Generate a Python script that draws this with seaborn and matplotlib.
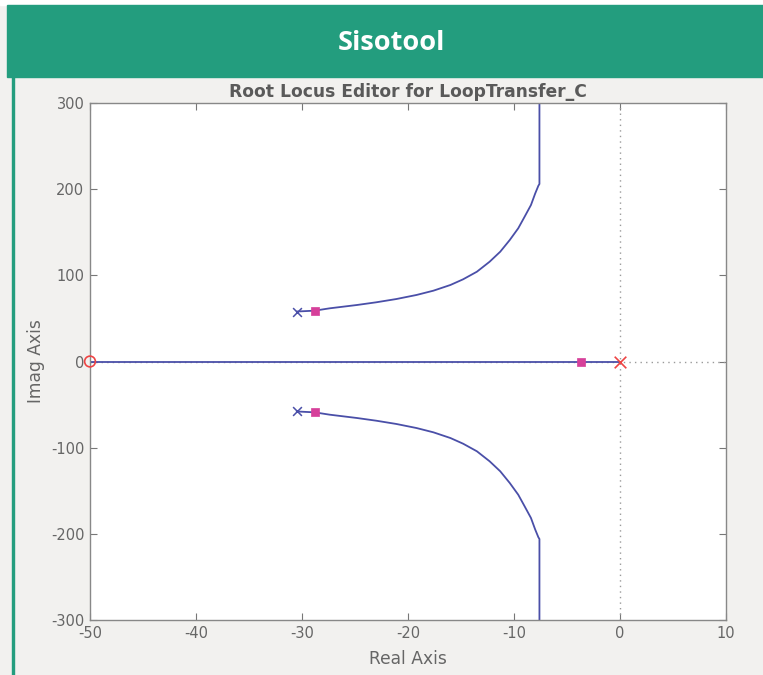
import matplotlib
matplotlib.use("Agg")
import matplotlib.pyplot as plt
from matplotlib.patches import Rectangle
import pandas as pd
import seaborn as sns

# Root locus branches (real part, imaginary part)
upper_re = [-30.5, -28.8, -27.4, -24.8, -23.0, -21.1, -19.2, -17.6, -16.0, -14.8, -13.5,
            -12.3, -11.3, -10.4, -9.6, -9.0, -8.4, -8.0, -7.7, -7.6, -7.6]
upper_im = [58, 59, 61.7, 65.6, 68.7, 72.5, 77.2, 82.2, 88.8, 95.4, 104.2,
            115.8, 127.4, 141, 154.6, 168, 181.6, 195, 204, 206, 300]
lower_re = [-30.5, -28.8, -27.4, -24.8, -23.0, -21.1, -19.2, -17.6, -16.0, -14.8, -13.5,
            -12.3, -11.3, -10.4, -9.6, -9.0, -8.4, -8.0, -7.7, -7.6, -7.6]
lower_im = [-58, -59, -61.7, -65.6, -68.7, -72.5, -77.2, -82.2, -88.8, -95.4, -104.2,
            -115.8, -127.4, -141, -154.6, -168, -181.6, -195, -204, -206, -300]
real_branch_re = [0, -50]
real_branch_im = [0, 0]

# Open-loop poles and zeros
cplx_pole_re = [-30.5, -30.5]
cplx_pole_im = [58, -58]
real_pole_re = [0]
real_pole_im = [0]
zero_re = [-50]
zero_im = [0]

# Closed-loop poles at the current gain
cl_pole_re = [-28.8, -28.8, -3.7]
cl_pole_im = [59, -59, 0]

x_ticks = [-50, -40, -30, -20, -10, 0, 10]
y_ticks = [-300, -200, -100, 0, 100, 200, 300]

sns.set_theme(style="white")
plt.rcParams["font.family"] = ["DejaVu Sans"]

W, H = 763, 675
fig = plt.figure(figsize=(W / 100, H / 100), dpi=100, facecolor="#f2f1ef")

# Page header band and side rule
green = "#239d7e"
fig.patches.append(Rectangle((0, 1 - 5 / H), 1, 5 / H, transform=fig.transFigure,
                             color="white", zorder=0))
fig.patches.append(Rectangle((7 / W, 1 - 77 / H), 1 - 7 / W, 72 / H, transform=fig.transFigure,
                             color=green, zorder=1))
fig.patches.append(Rectangle((12 / W, 0), 2.5 / W, 1 - 77 / H, transform=fig.transFigure,
                             color=green, zorder=1))
fig.text(391 / W, 1 - 43 / H, "Sisotool", color="white", fontsize=19.5, fontweight="bold",
         family=["Open Sans", "DejaVu Sans"], ha="center", va="center")

ax = fig.add_axes([90 / W, 1 - 620 / H, 636 / W, 517 / H])
ax.set_facecolor("white")

line_col = "#4a4fa8"
grid_col = "#9a9a9a"

# Dotted reference axes through the origin
ax.axvline(0, color=grid_col, lw=1.0, ls=(0, (1, 3)), zorder=1)
ax.axhline(0, color=grid_col, lw=1.0, ls=(0, (1, 3)), zorder=1)

branches = [
    pd.DataFrame({"re": upper_re, "im": upper_im}),
    pd.DataFrame({"re": lower_re, "im": lower_im}),
    pd.DataFrame({"re": real_branch_re, "im": real_branch_im}),
]
for df in branches:
    sns.lineplot(data=df, x="re", y="im", sort=False, estimator=None, color=line_col,
                 lw=1.3, ax=ax, zorder=2)

sns.scatterplot(x=cplx_pole_re, y=cplx_pole_im, marker="x", s=40, color=line_col,
                linewidth=1.1, ax=ax, zorder=3)
sns.scatterplot(x=real_pole_re, y=real_pole_im, marker="x", s=70, color="#ee4444",
                linewidth=1.2, ax=ax, zorder=4)
sns.scatterplot(x=zero_re, y=zero_im, marker="o", s=60, facecolor="none",
                edgecolor="#ee4444", linewidth=1.2, ax=ax, zorder=4, clip_on=False)
sns.scatterplot(x=cl_pole_re, y=cl_pole_im, marker="s", s=32, color="#d6409a",
                edgecolor="#d6409a", linewidth=0.5, ax=ax, zorder=5)

ax.set_xlim(-50, 10)
ax.set_ylim(-300, 300)
ax.set_xticks(x_ticks)
ax.set_yticks(y_ticks)
ax.set_xticklabels([str(v) for v in x_ticks])
ax.set_yticklabels([str(v) for v in y_ticks])
ax.tick_params(direction="in", length=5, width=0.8, color="#777777", labelcolor="#666666",
               labelsize=10.5, top=True, right=True, bottom=True, left=True, pad=4)
for sp in ax.spines.values():
    sp.set_color("#888888")
    sp.set_linewidth(1.0)

ax.set_xlabel("Real Axis", color="#666666", fontsize=12.3, labelpad=7)
ax.set_ylabel("Imag Axis", color="#666666", fontsize=12.3, labelpad=4)
ax.set_title("Root Locus Editor for LoopTransfer_C", color="#5a5a5a", fontsize=12.3,
             fontweight="bold", pad=4)

fig.savefig("out.png", dpi=100, facecolor=fig.get_facecolor())
